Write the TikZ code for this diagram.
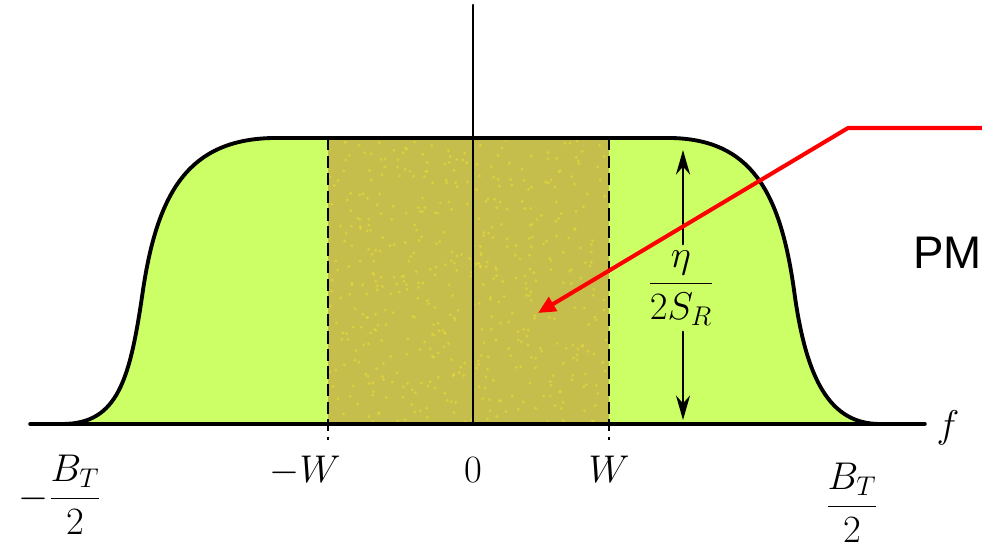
\RequirePackage{fix-cm}
\documentclass[tikz,border=0pt]{standalone}
\usepackage{amsmath}
\usepackage{fontspec}
\newfontfamily\pmfont{Liberation Sans}
\usetikzlibrary{arrows.meta}
\definecolor{lime}{RGB}{204,255,102}
\definecolor{noise}{RGB}{198,190,76}
\begin{document}
\begin{tikzpicture}[x=0.02cm, y=-0.02cm, font=\fontsize{22}{26}\selectfont, line join=round, line cap=round,
  spectrum/.style={line width=2.2pt},
  dimline/.style={line width=1.2pt, -{Stealth[length=14pt,width=8pt]}},
  pointer/.style={red, line width=2.3pt, line cap=butt, -{Triangle[length=10pt,width=9pt]}}]
\useasboundingbox (0,0) rectangle (982,557);
% spectrum, noise band on top
\fill[lime] (62,424) .. controls (118,424) and (130,380) .. (143,290) .. controls (158,190) and (190,140) .. (272,138) -- (672,138) .. controls (750,140) and (780,190) .. (794,290) .. controls (806,380) and (830,424) .. (880,424) -- cycle;
\fill[noise] (328,138) rectangle (609,424);
\pgfmathsetseed{7}
\foreach \i in {1,...,500}
  \fill[yellow!55!noise, opacity=.6] (330+277*rnd, 140+282*rnd) circle (1.6);
\draw[spectrum] (62,424) .. controls (118,424) and (130,380) .. (143,290) .. controls (158,190) and (190,140) .. (272,138) -- (672,138) .. controls (750,140) and (780,190) .. (794,290) .. controls (806,380) and (830,424) .. (880,424);
\draw[line width=1.5pt, dash pattern=on 7pt off 3pt, line cap=butt] (328,138) -- (328,440) (609,138) -- (609,440);
% axes
\coordinate (fl) at (30,424);
\coordinate (fr) at (925,424);
\coordinate (o) at (473,424);
\coordinate (top) at (473,5);
\draw[line width=2pt] (fl) -- (fr);
\draw[line width=1.5pt] (o) -- (top);
% level
\node (eta) at (681,288) {$\dfrac{\eta}{2S_R}$};
\coordinate (dtop) at (683,150);
\coordinate (dbot) at (683,420);
\draw[dimline] (eta.north -| dtop) -- (dtop);
\draw[dimline] (eta.south -| dbot) -- (dbot);
% labels
\node (bl) at (60,495) {$-\dfrac{B_T}{2}$};
\node[anchor=base] (mw) at (305,482) {$-W$};
\node[anchor=base] (zero) at (473,482) {$0$};
\node[anchor=base] (pw) at (609,482) {$W$};
\node (br) at (852,503) {$\dfrac{B_T}{2}$};
\node[anchor=base] (f) at (948,437) {$f$};
% pointer
\node[anchor=base west, inner sep=0, font=\pmfont\fontsize{26}{30}\selectfont] (pm) at (913,268) {PM};
\coordinate (pmstart) at (990,128);
\coordinate (pmbend) at (848,128);
\coordinate (pmtip) at (538,313);
\draw[pointer] (pmstart) -- (pmbend) -- (pmtip);
\end{tikzpicture}
\end{document}
